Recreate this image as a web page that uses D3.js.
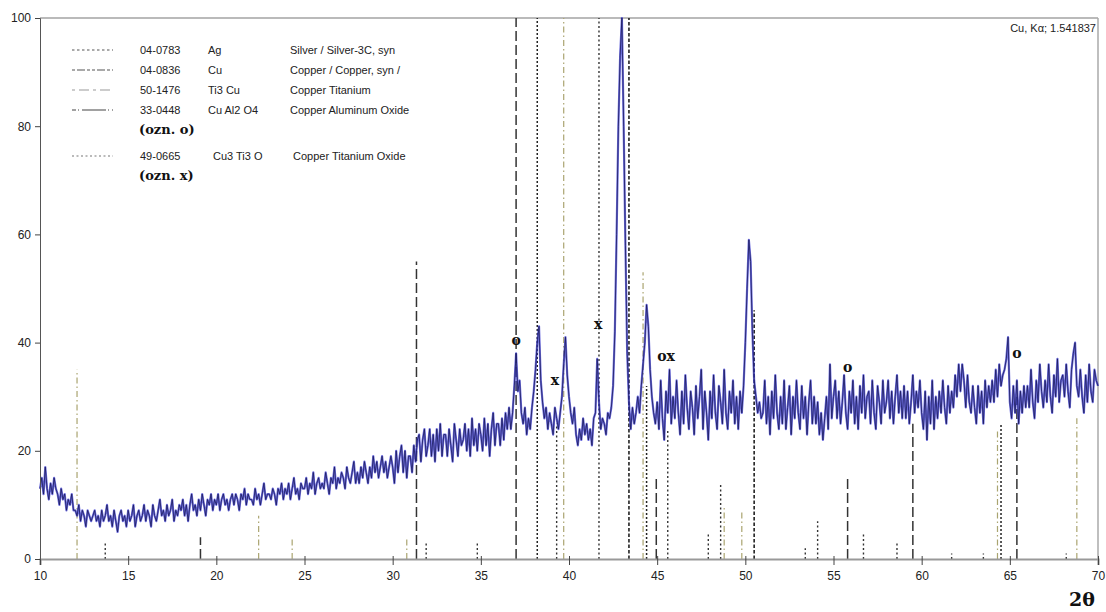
<!DOCTYPE html>
<html>
<head>
<meta charset="utf-8">
<script src="https://cdn.jsdelivr.net/npm/d3@7"></script>
<style>
  body { margin: 0; background: #fff; }
  svg { display: block; font-family: "Liberation Sans", Arial, sans-serif; }
</style>
</head>
<body>
<div id="chart"></div>
<script>
// measured pattern, 2theta from 10 to 70 in 0.1 deg steps
const thetaStart = 10;
const thetaStep = 0.1;
const intensity = [
  13,15,12,17,13,11,14,12,15,13,
  12,10,13,11,12,9,11,10,12,9,
  9,8,10,7,9,8,6,9,8,7,
  8,9,7,8,6,9,7,8,10,7,
  8,6,9,7,5,8,9,7,8,6,
  9,7,8,10,6,8,9,7,8,10,
  7,9,8,6,10,8,7,9,11,8,
  9,7,10,8,9,11,7,9,8,10,
  9,11,8,10,7,10,12,9,10,8,
  11,9,12,10,8,11,10,12,9,11,
  10,12,9,11,12,10,11,9,11,12,
  10,12,11,9,12,11,13,10,12,11,
  11,10,13,11,12,10,12,14,11,12,
  12,11,13,12,10,13,12,14,11,13,
  12,14,11,13,15,12,13,11,14,13,
  13,15,12,14,13,16,12,14,15,13,
  14,13,16,14,12,15,14,17,13,15,
  14,16,15,13,17,15,14,16,18,14,
  16,14,17,15,18,16,14,17,15,19,
  16,18,15,17,19,16,18,15,17,19,
  17,14,20,16,19,21,16,20,15,19,
  19,16,21,18,22,23,18,22,24,19,
  21,24,19,23,18,24,20,25,19,23,
  23,19,24,21,18,25,22,19,24,21,
  22,25,20,24,19,26,21,24,20,25,
  23,20,26,21,25,19,24,27,21,25,
  25,21,26,22,27,24,28,24,27,32,
  38,31,33,27,25,28,23,26,24,28,
  31,35,40,43,33,29,26,28,24,27,
  25,23,28,26,24,27,30,36,41,34,
  30,27,25,28,23,21,24,22,26,23,
  25,22,24,21,26,27,37,29,24,26,
  25,23,27,26,28,32,42,60,80,93,
  100,80,58,38,29,24,28,25,27,30,
  27,32,36,40,47,43,35,30,27,25,
  29,24,33,26,22,31,27,35,25,30,
  26,33,27,23,31,25,34,28,24,31,
  28,23,32,26,30,35,24,31,27,22,
  31,26,34,27,24,32,29,25,35,27,
  24,31,27,33,25,30,24,31,27,32,
  40,50,59,55,42,33,30,27,29,26,
  27,33,25,30,23,31,26,34,27,24,
  30,25,33,24,28,32,23,30,26,33,
  27,24,32,26,30,23,29,33,25,30,
  25,29,23,27,22,26,30,24,36,26,
  30,33,26,31,25,29,34,27,24,31,
  27,33,25,30,24,32,27,34,26,30,
  31,25,33,27,24,32,29,25,33,27,
  29,33,26,31,25,30,34,27,31,26,
  32,26,31,25,29,34,27,31,28,33,
  27,24,31,22,30,25,33,24,30,26,
  31,27,33,28,25,32,27,31,28,34,
  30,36,31,36,33,28,34,29,27,32,
  28,25,32,27,31,25,33,28,32,29,
  33,29,35,30,36,32,34,35,37,41,
  29,26,32,27,33,25,31,27,32,28,
  32,28,35,29,26,33,29,36,31,28,
  33,29,36,30,27,34,30,37,29,33,
  34,30,36,31,28,35,38,40,32,30,
  35,30,27,34,29,36,31,29,35,33,
  32
];

// reference patterns (angle, relative intensity)
const agAngles = [38.2, 44.4, 64.5];
const agHeights = [100, 32, 25];
const cuAngles = [43.4, 50.5];
const cuHeights = [100, 46];
const ti3cuAngles = [12.1, 22.4, 24.3, 30.8, 39.7, 44.2, 48.8, 49.8, 64.3, 68.8];
const ti3cuHeights = [35, 8, 4, 4, 100, 53, 10, 9, 24, 26];
const cual2o4Angles = [19.1, 31.35, 37.0, 44.95, 55.8, 59.5, 65.4];
const cual2o4Heights = [4, 55, 100, 15, 15, 25, 30];
const cu3ti3oAngles = [13.7, 31.9, 34.8, 39.3, 41.7, 45.6, 47.9, 48.6, 53.4, 54.1, 56.7, 58.6, 61.7, 63.5, 68.2];
const cu3ti3oHeights = [3, 3, 3, 25, 100, 24, 5, 14, 2, 7, 5, 3, 1, 1, 1];

const xTicks = [10, 15, 20, 25, 30, 35, 40, 45, 50, 55, 60, 65, 70];
const yTicks = [0, 20, 40, 60, 80, 100];

const legendRows = [
  {code: "04-0783", formula: "Ag", name: "Silver / Silver-3C, syn"},
  {code: "04-0836", formula: "Cu", name: "Copper / Copper, syn /"},
  {code: "50-1476", formula: "Ti3 Cu", name: "Copper Titanium"},
  {code: "33-0448", formula: "Cu Al2 O4", name: "Copper Aluminum Oxide"},
  {code: "49-0665", formula: "Cu3 Ti3 O", name: "Copper Titanium Oxide"}
];

// peak marks: o = CuAl2O4, x = Cu3Ti3O
const markAngles = [37.0, 39.2, 41.65, 45.5, 55.8, 65.4];
const markValues = [40.5, 33, 43.5, 37.5, 35.5, 38];
const markTexts = ["o", "x", "x", "ox", "o", "o"];

const width = 1106, height = 612;
const margin = {top: 18, right: 8, bottom: 53, left: 40};
const w = width - margin.left - margin.right;
const h = height - margin.top - margin.bottom;

const svg = d3.select("#chart").append("svg")
    .attr("width", width)
    .attr("height", height);

const x = d3.scaleLinear().domain([10, 70]).range([0, w]);
const y = d3.scaleLinear().domain([0, 100]).range([h, 0]);

const g = svg.append("g")
    .attr("transform", "translate(" + margin.left + "," + margin.top + ")");

// frame
g.append("line").attr("x1", 0).attr("x2", w).attr("y1", 0).attr("y2", 0)
    .attr("stroke", "#777").attr("stroke-width", 1.2);
g.append("line").attr("x1", w).attr("x2", w).attr("y1", 0).attr("y2", h)
    .attr("stroke", "#aaa").attr("stroke-width", 1.5);

// stick patterns
const phases = [
  {angles: ti3cuAngles, heights: ti3cuHeights, color: "#aaa470", dash: "6,3,1.5,3", sw: 1.2},
  {angles: cu3ti3oAngles, heights: cu3ti3oHeights, color: "#333", dash: "2,2.5", sw: 1.4},
  {angles: agAngles, heights: agHeights, color: "#222", dash: "2,2", sw: 1.5},
  {angles: cuAngles, heights: cuHeights, color: "#222", dash: "3.5,2", sw: 1.6},
  {angles: cual2o4Angles, heights: cual2o4Heights, color: "#333", dash: "10,4", sw: 1.5}
];

phases.forEach(p => {
  g.append("g").selectAll("line")
      .data(p.angles.map((a, i) => ({a: a, v: p.heights[i]})))
      .enter().append("line")
      .attr("x1", d => x(d.a)).attr("x2", d => x(d.a))
      .attr("y1", y(0)).attr("y2", d => y(d.v))
      .attr("stroke", p.color)
      .attr("stroke-width", p.sw)
      .attr("stroke-dasharray", p.dash);
});

// pattern line: blue halo with a dark core
const pts = intensity.map((v, i) => [thetaStart + i * thetaStep, v]);
const line = d3.line().x(d => x(d[0])).y(d => y(d[1]));

g.append("path").datum(pts)
    .attr("d", line)
    .attr("fill", "none")
    .attr("stroke", "#3c3cd2")
    .attr("stroke-opacity", 0.75)
    .attr("stroke-width", 2.2)
    .attr("stroke-linejoin", "round");
g.append("path").datum(pts)
    .attr("d", line)
    .attr("fill", "none")
    .attr("stroke", "#1a1a5c")
    .attr("stroke-width", 0.8);

// axes
const xAxis = g.append("g")
    .attr("transform", "translate(0," + h + ")")
    .call(d3.axisBottom(x).tickValues(xTicks).tickSize(6).tickPadding(6).tickFormat(d3.format("d")));
const yAxis = g.append("g")
    .call(d3.axisLeft(y).tickValues(yTicks).tickSize(5).tickPadding(4).tickFormat(d3.format("d")));

xAxis.select(".domain").attr("stroke", "#999").attr("stroke-width", 2.2);
yAxis.select(".domain").attr("stroke", "#555").attr("stroke-width", 1);
xAxis.selectAll(".tick line").attr("stroke", "#444").attr("y1", -3);
yAxis.selectAll(".tick line").attr("stroke", "#444");
svg.selectAll(".tick text")
    .attr("fill", "#222")
    .style("font-size", "12px")
    .style("font-family", "'Liberation Sans', Arial, sans-serif");

// peak marks
g.append("g").selectAll("text")
    .data(markTexts)
    .enter().append("text")
    .attr("x", (d, i) => x(markAngles[i]))
    .attr("y", (d, i) => y(markValues[i]))
    .attr("text-anchor", "middle")
    .attr("dy", "0.35em")
    .style("font-family", "'DejaVu Serif', serif")
    .style("font-weight", "bold")
    .style("font-size", "14px")
    .attr("fill", "#111")
    .text(d => d);

// legend
const legend = svg.append("g").attr("class", "legend");
const rowY = [50, 70, 90, 110, 156];
const sampleStyles = [
  {dash: "2.5,2.5", color: "#555"},
  {dash: "3,2,8,2,3,2", color: "#555"},
  {dash: "3,4,10,4", color: "#999"},
  {dash: "4,2,1,3,20,0", color: "#444"},
  {dash: "2,2.5", color: "#777"}
];
legendRows.forEach((r, i) => {
  const ry = rowY[i];
  legend.append("line")
      .attr("x1", 72).attr("x2", 113).attr("y1", ry).attr("y2", ry)
      .attr("stroke", sampleStyles[i].color)
      .attr("stroke-width", 1.2)
      .attr("stroke-dasharray", sampleStyles[i].dash);
  const tx = i === 4 ? [140, 213, 293] : [140, 208, 290];
  [r.code, r.formula, r.name].forEach((t, j) => {
    legend.append("text")
        .attr("x", tx[j]).attr("y", ry + 4)
        .style("font-size", "11px")
        .attr("fill", "#222")
        .text(t);
  });
});
legend.append("text").attr("x", 139).attr("y", 134)
    .style("font-family", "'DejaVu Serif', serif").style("font-weight", "bold").style("font-size", "13px")
    .attr("fill", "#111").text("(ozn. o)");
legend.append("text").attr("x", 139).attr("y", 180)
    .style("font-family", "'DejaVu Serif', serif").style("font-weight", "bold").style("font-size", "13px")
    .attr("fill", "#111").text("(ozn. x)");

svg.append("text")
    .attr("x", 1096).attr("y", 32)
    .attr("text-anchor", "end")
    .style("font-size", "11px")
    .attr("fill", "#222")
    .text("Cu, K\u03b1; 1.541837");

svg.append("text")
    .attr("x", 1082).attr("y", 606)
    .attr("text-anchor", "middle")
    .style("font-family", "'DejaVu Serif', serif")
    .style("font-weight", "bold")
    .style("font-size", "19px")
    .attr("fill", "#111")
    .text("2\u03b8");
</script>
</body>
</html>
